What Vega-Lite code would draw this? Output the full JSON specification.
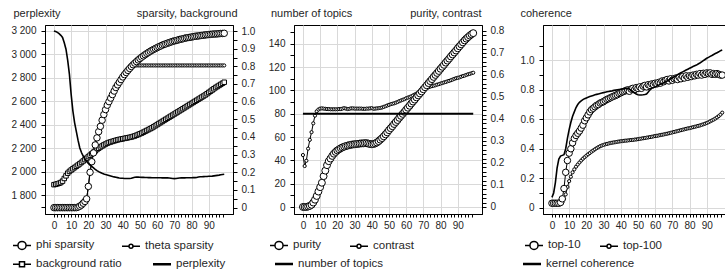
{
"$schema":"https://vega.github.io/schema/vega-lite/v6.json",
"background":"white",
"padding":{"left":10,"top":6,"right":0,"bottom":0},
"datasets":{"d":[
{"x":0,"a":0,"b":0,"c":0.13,"p":3200,"u":0,"n":0.236,"t":80,"h":0.03,"g":0.03,"k":0.07},
{"x":1,"a":0,"b":0,"c":0.132,"p":3195,"u":0,"n":0.186,"t":80,"h":0.03,"g":0.03,"k":0.1},
{"x":2,"a":0,"b":0,"c":0.135,"p":3188,"u":0,"n":0.21,"t":80,"h":0.03,"g":0.03,"k":0.17},
{"x":3,"a":0,"b":0,"c":0.138,"p":3178,"u":0.002,"n":0.265,"t":80,"h":0.03,"g":0.03,"k":0.27},
{"x":4,"a":0,"b":0,"c":0.142,"p":3163,"u":0.005,"n":0.305,"t":80,"h":0.03,"g":0.03,"k":0.33},
{"x":5,"a":0,"b":0,"c":0.15,"p":3145,"u":0.01,"n":0.34,"t":80,"h":0.035,"g":0.03,"k":0.35},
{"x":6,"a":0,"b":0,"c":0.165,"p":3100,"u":0.02,"n":0.38,"t":80,"h":0.06,"g":0.035,"k":0.355},
{"x":7,"a":0,"b":0,"c":0.18,"p":3045,"u":0.033,"n":0.415,"t":80,"h":0.13,"g":0.06,"k":0.36},
{"x":8,"a":0,"b":0,"c":0.195,"p":2950,"u":0.05,"n":0.435,"t":80,"h":0.24,"g":0.09,"k":0.4},
{"x":9,"a":0,"b":0,"c":0.205,"p":2830,"u":0.07,"n":0.443,"t":80,"h":0.32,"g":0.14,"k":0.47},
{"x":10,"a":0,"b":0,"c":0.213,"p":2660,"u":0.09,"n":0.447,"t":80,"h":0.37,"g":0.18,"k":0.53},
{"x":11,"a":0,"b":0,"c":0.22,"p":2520,"u":0.11,"n":0.448,"t":80,"h":0.4,"g":0.21,"k":0.58},
{"x":12,"a":0,"b":0,"c":0.227,"p":2420,"u":0.14,"n":0.447,"t":80,"h":0.44,"g":0.24,"k":0.62},
{"x":13,"a":0,"b":0,"c":0.234,"p":2345,"u":0.165,"n":0.446,"t":80,"h":0.47,"g":0.26,"k":0.65},
{"x":14,"a":0.003,"b":0.003,"c":0.241,"p":2270,"u":0.19,"n":0.445,"t":80,"h":0.49,"g":0.278,"k":0.68},
{"x":15,"a":0.008,"b":0.008,"c":0.248,"p":2205,"u":0.208,"n":0.445,"t":80,"h":0.505,"g":0.293,"k":0.7},
{"x":16,"a":0.015,"b":0.015,"c":0.256,"p":2165,"u":0.22,"n":0.444,"t":80,"h":0.52,"g":0.307,"k":0.715},
{"x":17,"a":0.025,"b":0.025,"c":0.264,"p":2135,"u":0.232,"n":0.444,"t":80,"h":0.54,"g":0.32,"k":0.725},
{"x":18,"a":0.035,"b":0.035,"c":0.272,"p":2110,"u":0.242,"n":0.444,"t":80,"h":0.56,"g":0.332,"k":0.733},
{"x":19,"a":0.05,"b":0.05,"c":0.28,"p":2090,"u":0.25,"n":0.444,"t":80,"h":0.59,"g":0.343,"k":0.74},
{"x":20,"a":0.12,"b":0.12,"c":0.289,"p":2072,"u":0.257,"n":0.444,"t":80,"h":0.61,"g":0.353,"k":0.745},
{"x":21,"a":0.2,"b":0.2,"c":0.297,"p":2058,"u":0.262,"n":0.445,"t":80,"h":0.63,"g":0.362,"k":0.75},
{"x":22,"a":0.26,"b":0.26,"c":0.305,"p":2046,"u":0.267,"n":0.445,"t":80,"h":0.65,"g":0.371,"k":0.754},
{"x":23,"a":0.31,"b":0.31,"c":0.313,"p":2034,"u":0.271,"n":0.447,"t":80,"h":0.665,"g":0.38,"k":0.758},
{"x":24,"a":0.355,"b":0.355,"c":0.321,"p":2022,"u":0.274,"n":0.449,"t":80,"h":0.675,"g":0.388,"k":0.762},
{"x":25,"a":0.395,"b":0.395,"c":0.329,"p":2011,"u":0.277,"n":0.447,"t":80,"h":0.685,"g":0.396,"k":0.766},
{"x":26,"a":0.43,"b":0.43,"c":0.336,"p":2002,"u":0.279,"n":0.445,"t":80,"h":0.695,"g":0.404,"k":0.769},
{"x":27,"a":0.46,"b":0.46,"c":0.343,"p":1995,"u":0.281,"n":0.446,"t":80,"h":0.7,"g":0.411,"k":0.772},
{"x":28,"a":0.495,"b":0.495,"c":0.349,"p":1988,"u":0.283,"n":0.448,"t":80,"h":0.71,"g":0.417,"k":0.775},
{"x":29,"a":0.527,"b":0.527,"c":0.355,"p":1982,"u":0.284,"n":0.448,"t":80,"h":0.715,"g":0.422,"k":0.778},
{"x":30,"a":0.555,"b":0.555,"c":0.36,"p":1977,"u":0.285,"n":0.447,"t":80,"h":0.72,"g":0.426,"k":0.781},
{"x":31,"a":0.58,"b":0.58,"c":0.365,"p":1973,"u":0.286,"n":0.447,"t":80,"h":0.728,"g":0.43,"k":0.784},
{"x":32,"a":0.6,"b":0.6,"c":0.369,"p":1969,"u":0.287,"n":0.447,"t":80,"h":0.735,"g":0.433,"k":0.787},
{"x":33,"a":0.62,"b":0.62,"c":0.372,"p":1965,"u":0.288,"n":0.447,"t":80,"h":0.74,"g":0.436,"k":0.789},
{"x":34,"a":0.64,"b":0.64,"c":0.375,"p":1961,"u":0.289,"n":0.447,"t":80,"h":0.746,"g":0.439,"k":0.791},
{"x":35,"a":0.66,"b":0.66,"c":0.378,"p":1957,"u":0.289,"n":0.446,"t":80,"h":0.752,"g":0.441,"k":0.793},
{"x":36,"a":0.68,"b":0.68,"c":0.381,"p":1954,"u":0.29,"n":0.446,"t":80,"h":0.757,"g":0.443,"k":0.796},
{"x":37,"a":0.695,"b":0.695,"c":0.384,"p":1951,"u":0.29,"n":0.447,"t":80,"h":0.762,"g":0.445,"k":0.798},
{"x":38,"a":0.71,"b":0.71,"c":0.386,"p":1948,"u":0.288,"n":0.447,"t":80,"h":0.767,"g":0.447,"k":0.8},
{"x":39,"a":0.725,"b":0.725,"c":0.388,"p":1946,"u":0.286,"n":0.448,"t":80,"h":0.775,"g":0.449,"k":0.802},
{"x":40,"a":0.74,"b":0.74,"c":0.39,"p":1945,"u":0.285,"n":0.449,"t":80,"h":0.78,"g":0.451,"k":0.804},
{"x":41,"a":0.753,"b":0.753,"c":0.392,"p":1944,"u":0.286,"n":0.446,"t":80,"h":0.786,"g":0.452,"k":0.806},
{"x":42,"a":0.765,"b":0.765,"c":0.394,"p":1944,"u":0.289,"n":0.447,"t":80,"h":0.79,"g":0.454,"k":0.808},
{"x":43,"a":0.777,"b":0.777,"c":0.396,"p":1944,"u":0.293,"n":0.448,"t":80,"h":0.795,"g":0.455,"k":0.81},
{"x":44,"a":0.788,"b":0.788,"c":0.398,"p":1944,"u":0.299,"n":0.449,"t":80,"h":0.8,"g":0.456,"k":0.81},
{"x":45,"a":0.799,"b":0.795,"c":0.4,"p":1945,"u":0.306,"n":0.45,"t":80,"h":0.79,"g":0.458,"k":0.805},
{"x":46,"a":0.809,"b":0.8,"c":0.403,"p":1950,"u":0.313,"n":0.452,"t":80,"h":0.805,"g":0.459,"k":0.797},
{"x":47,"a":0.818,"b":0.805,"c":0.406,"p":1954,"u":0.321,"n":0.455,"t":80,"h":0.81,"g":0.46,"k":0.79},
{"x":48,"a":0.827,"b":0.805,"c":0.41,"p":1955,"u":0.33,"n":0.458,"t":80,"h":0.8,"g":0.462,"k":0.78},
{"x":49,"a":0.836,"b":0.805,"c":0.414,"p":1955,"u":0.339,"n":0.461,"t":80,"h":0.815,"g":0.463,"k":0.772},
{"x":50,"a":0.844,"b":0.805,"c":0.418,"p":1954,"u":0.349,"n":0.464,"t":80,"h":0.81,"g":0.465,"k":0.767},
{"x":51,"a":0.852,"b":0.805,"c":0.422,"p":1953,"u":0.358,"n":0.467,"t":80,"h":0.82,"g":0.467,"k":0.765},
{"x":52,"a":0.859,"b":0.805,"c":0.427,"p":1953,"u":0.367,"n":0.469,"t":80,"h":0.81,"g":0.469,"k":0.765},
{"x":53,"a":0.866,"b":0.805,"c":0.432,"p":1952,"u":0.377,"n":0.471,"t":80,"h":0.825,"g":0.471,"k":0.766},
{"x":54,"a":0.873,"b":0.805,"c":0.437,"p":1952,"u":0.386,"n":0.474,"t":80,"h":0.83,"g":0.473,"k":0.768},
{"x":55,"a":0.879,"b":0.805,"c":0.442,"p":1951,"u":0.395,"n":0.477,"t":80,"h":0.82,"g":0.475,"k":0.772},
{"x":56,"a":0.885,"b":0.805,"c":0.447,"p":1951,"u":0.405,"n":0.481,"t":80,"h":0.835,"g":0.477,"k":0.785},
{"x":57,"a":0.891,"b":0.805,"c":0.452,"p":1950,"u":0.414,"n":0.484,"t":80,"h":0.83,"g":0.479,"k":0.8},
{"x":58,"a":0.896,"b":0.805,"c":0.458,"p":1950,"u":0.423,"n":0.487,"t":80,"h":0.84,"g":0.481,"k":0.81},
{"x":59,"a":0.901,"b":0.805,"c":0.464,"p":1950,"u":0.432,"n":0.49,"t":80,"h":0.835,"g":0.484,"k":0.815},
{"x":60,"a":0.906,"b":0.805,"c":0.47,"p":1950,"u":0.442,"n":0.494,"t":80,"h":0.845,"g":0.486,"k":0.82},
{"x":61,"a":0.911,"b":0.805,"c":0.476,"p":1950,"u":0.451,"n":0.497,"t":80,"h":0.84,"g":0.488,"k":0.826},
{"x":62,"a":0.915,"b":0.805,"c":0.482,"p":1950,"u":0.46,"n":0.5,"t":80,"h":0.85,"g":0.49,"k":0.832},
{"x":63,"a":0.92,"b":0.805,"c":0.488,"p":1949,"u":0.47,"n":0.503,"t":80,"h":0.845,"g":0.493,"k":0.838},
{"x":64,"a":0.924,"b":0.805,"c":0.494,"p":1949,"u":0.479,"n":0.507,"t":80,"h":0.86,"g":0.495,"k":0.843},
{"x":65,"a":0.927,"b":0.805,"c":0.5,"p":1949,"u":0.488,"n":0.511,"t":80,"h":0.855,"g":0.497,"k":0.848},
{"x":66,"a":0.931,"b":0.805,"c":0.506,"p":1949,"u":0.498,"n":0.515,"t":80,"h":0.865,"g":0.5,"k":0.854},
{"x":67,"a":0.934,"b":0.805,"c":0.512,"p":1948,"u":0.507,"n":0.52,"t":80,"h":0.87,"g":0.502,"k":0.86},
{"x":68,"a":0.938,"b":0.805,"c":0.518,"p":1946,"u":0.516,"n":0.524,"t":80,"h":0.86,"g":0.505,"k":0.867},
{"x":69,"a":0.941,"b":0.805,"c":0.524,"p":1943,"u":0.525,"n":0.529,"t":80,"h":0.875,"g":0.508,"k":0.874},
{"x":70,"a":0.944,"b":0.805,"c":0.53,"p":1942,"u":0.535,"n":0.533,"t":80,"h":0.865,"g":0.511,"k":0.881},
{"x":71,"a":0.946,"b":0.805,"c":0.536,"p":1943,"u":0.544,"n":0.537,"t":80,"h":0.875,"g":0.514,"k":0.888},
{"x":72,"a":0.949,"b":0.805,"c":0.542,"p":1946,"u":0.553,"n":0.541,"t":80,"h":0.88,"g":0.517,"k":0.895},
{"x":73,"a":0.952,"b":0.805,"c":0.548,"p":1948,"u":0.563,"n":0.544,"t":80,"h":0.87,"g":0.52,"k":0.902},
{"x":74,"a":0.954,"b":0.805,"c":0.554,"p":1949,"u":0.572,"n":0.547,"t":80,"h":0.885,"g":0.523,"k":0.909},
{"x":75,"a":0.956,"b":0.805,"c":0.56,"p":1949,"u":0.581,"n":0.549,"t":80,"h":0.875,"g":0.526,"k":0.916},
{"x":76,"a":0.959,"b":0.805,"c":0.566,"p":1949,"u":0.591,"n":0.551,"t":80,"h":0.89,"g":0.529,"k":0.922},
{"x":77,"a":0.961,"b":0.805,"c":0.572,"p":1950,"u":0.6,"n":0.553,"t":80,"h":0.88,"g":0.532,"k":0.928},
{"x":78,"a":0.963,"b":0.805,"c":0.578,"p":1950,"u":0.609,"n":0.556,"t":80,"h":0.895,"g":0.535,"k":0.934},
{"x":79,"a":0.964,"b":0.805,"c":0.584,"p":1950,"u":0.618,"n":0.558,"t":80,"h":0.885,"g":0.538,"k":0.94},
{"x":80,"a":0.966,"b":0.805,"c":0.59,"p":1950,"u":0.628,"n":0.561,"t":80,"h":0.895,"g":0.54,"k":0.946},
{"x":81,"a":0.968,"b":0.805,"c":0.596,"p":1951,"u":0.637,"n":0.563,"t":80,"h":0.89,"g":0.543,"k":0.952},
{"x":82,"a":0.97,"b":0.805,"c":0.602,"p":1951,"u":0.646,"n":0.566,"t":80,"h":0.9,"g":0.546,"k":0.958},
{"x":83,"a":0.971,"b":0.805,"c":0.608,"p":1952,"u":0.656,"n":0.568,"t":80,"h":0.895,"g":0.549,"k":0.963},
{"x":84,"a":0.972,"b":0.805,"c":0.614,"p":1956,"u":0.665,"n":0.571,"t":80,"h":0.905,"g":0.552,"k":0.968},
{"x":85,"a":0.974,"b":0.805,"c":0.62,"p":1958,"u":0.674,"n":0.573,"t":80,"h":0.9,"g":0.555,"k":0.975},
{"x":86,"a":0.975,"b":0.805,"c":0.626,"p":1958,"u":0.684,"n":0.576,"t":80,"h":0.91,"g":0.558,"k":0.982},
{"x":87,"a":0.976,"b":0.805,"c":0.632,"p":1959,"u":0.693,"n":0.579,"t":80,"h":0.9,"g":0.562,"k":0.99},
{"x":88,"a":0.978,"b":0.805,"c":0.638,"p":1960,"u":0.702,"n":0.582,"t":80,"h":0.912,"g":0.566,"k":0.998},
{"x":89,"a":0.979,"b":0.805,"c":0.645,"p":1961,"u":0.711,"n":0.585,"t":80,"h":0.905,"g":0.57,"k":1.006},
{"x":90,"a":0.98,"b":0.805,"c":0.652,"p":1962,"u":0.721,"n":0.587,"t":80,"h":0.915,"g":0.575,"k":1.014},
{"x":91,"a":0.981,"b":0.805,"c":0.659,"p":1963,"u":0.73,"n":0.589,"t":80,"h":0.91,"g":0.58,"k":1.02},
{"x":92,"a":0.982,"b":0.805,"c":0.666,"p":1964,"u":0.739,"n":0.592,"t":80,"h":0.915,"g":0.586,"k":1.027},
{"x":93,"a":0.983,"b":0.805,"c":0.673,"p":1966,"u":0.748,"n":0.595,"t":80,"h":0.905,"g":0.592,"k":1.033},
{"x":94,"a":0.983,"b":0.805,"c":0.68,"p":1968,"u":0.757,"n":0.597,"t":80,"h":0.91,"g":0.598,"k":1.04},
{"x":95,"a":0.984,"b":0.805,"c":0.686,"p":1970,"u":0.765,"n":0.6,"t":80,"h":0.905,"g":0.605,"k":1.046},
{"x":96,"a":0.985,"b":0.805,"c":0.692,"p":1972,"u":0.772,"n":0.603,"t":80,"h":0.91,"g":0.613,"k":1.052},
{"x":97,"a":0.986,"b":0.805,"c":0.698,"p":1975,"u":0.779,"n":0.605,"t":80,"h":0.905,"g":0.622,"k":1.058},
{"x":98,"a":0.986,"b":0.805,"c":0.704,"p":1978,"u":0.785,"n":0.608,"t":80,"h":0.9,"g":0.632,"k":1.066},
{"x":99,"a":0.987,"b":0.805,"c":0.71,"p":1980,"u":0.79,"n":0.61,"t":80,"h":0.9,"g":0.645,"k":1.07}
]},
"bounds":"flush",
"spacing":61,
"resolve":{"scale":{"shape":"independent"},"legend":{"shape":"independent"}},
"hconcat":[
{
 "width":188,"height":189,
 "data":{"name":"d"},
 "encoding":{"x":{"field":"x","type":"quantitative","scale":{"domain":[-5.2,104.1],"nice":false,"zero":false},"axis":{"title":null,"values":[0,2,4,6,8,10,12,14,16,18,20,22,24,26,28,30,32,34,36,38,40,42,44,46,48,50,52,54,56,58,60,62,64,66,68,70,72,74,76,78,80,82,84,86,88,90,92,94,96,98],"labelExpr":"datum.value % 10 == 0 ? datum.label : ''","grid":true,"gridOpacity":{"condition":{"test":"datum.value % 10 == 0","value":1},"value":0},"tickSize":3,"labelPadding":3}}},
 "layer":[
  {"transform":[{"fold":["c","b","a"],"as":["s","v"]}],
   "encoding":{"y":{"field":"v","type":"quantitative","scale":{"domain":[-0.036,1.034],"nice":false,"zero":false},"axis":{"orient":"right","title":"sparsity, background","titleAngle":0,"titleAlign":"right","titleBaseline":"alphabetic","titleX":4,"titleY":-9,"values":[0,0.05,0.1,0.15,0.2,0.25,0.3,0.35,0.4,0.45,0.5,0.55,0.6,0.65,0.7,0.75,0.8,0.85,0.9,0.95,1],"labelExpr":"abs(datum.value*10 - round(datum.value*10)) < 0.001 ? (datum.value == 0 ? '0' : format(datum.value, '.1f')) : ''","grid":false,"tickSize":4,"labelPadding":4}}},
   "layer":[
    {"mark":{"type":"line","color":"black","strokeWidth":1},"encoding":{"detail":{"field":"s"}}},
    {"transform":[{"filter":"datum.s == 'c'"}],"mark":{"type":"point","shape":"square","size":20,"filled":true,"fill":"white","stroke":"black","strokeWidth":1,"opacity":1}},
    {"transform":[{"filter":"datum.s == 'b'"}],"mark":{"type":"point","shape":"circle","size":10,"filled":true,"fill":"white","stroke":"black","strokeWidth":1,"opacity":1}},
    {"transform":[{"filter":"datum.s == 'a'"}],"mark":{"type":"point","shape":"circle","size":42,"filled":true,"fill":"white","stroke":"black","strokeWidth":1,"opacity":1}}
   ]},
  {"mark":{"type":"line","color":"black","strokeWidth":1.6},
   "encoding":{"y":{"field":"p","type":"quantitative","scale":{"domain":[1641,3251],"nice":false,"zero":false},"axis":{"orient":"left","title":"perplexity","titleAngle":0,"titleAlign":"left","titleBaseline":"alphabetic","titleX":-32,"titleY":-9,"values":[1700,1800,1900,2000,2100,2200,2300,2400,2500,2600,2700,2800,2900,3000,3100,3200],"labelExpr":"datum.value % 200 == 0 ? replace(format(datum.value, ','), ',', ' ') : ''","grid":true,"gridOpacity":{"condition":{"test":"datum.value % 200 == 0","value":1},"value":0},"tickSize":4,"labelPadding":5}}}},
  {"transform":[{"filter":"false"}],
   "mark":{"type":"point","filled":false,"color":"black","strokeWidth":1,"opacity":1},
   "encoding":{"shape":{"field":"s","type":"nominal","scale":{"domain":["phi sparsity","theta sparsity"],"range":["M-1,0H-0.45M0.45,0H1M-0.45,0A0.45,0.45,0,1,1,0.45,0A0.45,0.45,0,1,1,-0.45,0Z","M-1,0H-0.22M0.22,0H1M-0.22,0A0.22,0.22,0,1,1,0.22,0A0.22,0.22,0,1,1,-0.22,0Z"]},
     "legend":{"title":null,"orient":"none","legendX":-33,"legendY":210,"direction":"horizontal","columnPadding":24,"symbolSize":324,"labelOffset":4,"labelFontSize":11.5,
       "encode":{"symbols":{"update":{"stroke":{"value":"black"},"strokeWidth":{"value":1},"fill":{"value":"transparent"},"opacity":{"value":1}}}}}}}},
  {"transform":[{"filter":"false"}],
   "mark":{"type":"point","filled":false,"color":"black","strokeWidth":1,"opacity":1},
   "encoding":{"shape":{"field":"s","type":"nominal","scale":{"domain":["background ratio","perplexity"],"range":["M-1,0H-0.28M0.28,0H1M-0.28,-0.28H0.28V0.28H-0.28Z","M-1,-0.065H1M-1,0.065H1"]},
     "legend":{"title":null,"orient":"none","legendX":-33,"legendY":229,"direction":"horizontal","columnPadding":28,"symbolSize":324,"labelOffset":4,"labelFontSize":11.5,
       "encode":{"symbols":{"update":{"stroke":{"value":"black"},"strokeWidth":{"value":1},"fill":{"value":"transparent"},"opacity":{"value":1}}}}}}}}
 ],
 "resolve":{"scale":{"y":"independent","shape":"independent"},"legend":{"shape":"independent"}}
},
{
 "width":188,"height":189,
 "data":{"name":"d"},
 "encoding":{"x":{"field":"x","type":"quantitative","scale":{"domain":[-5.2,104.1],"nice":false,"zero":false},"axis":{"title":null,"values":[0,2,4,6,8,10,12,14,16,18,20,22,24,26,28,30,32,34,36,38,40,42,44,46,48,50,52,54,56,58,60,62,64,66,68,70,72,74,76,78,80,82,84,86,88,90,92,94,96,98],"labelExpr":"datum.value % 10 == 0 ? datum.label : ''","grid":true,"gridOpacity":{"condition":{"test":"datum.value % 10 == 0","value":1},"value":0},"tickSize":3,"labelPadding":3}}},
 "layer":[
  {"transform":[{"fold":["n","u"],"as":["s","v"]}],
   "encoding":{"y":{"field":"v","type":"quantitative","scale":{"domain":[-0.032,0.827],"nice":false,"zero":false},"axis":{"orient":"right","title":"purity, contrast","titleAngle":0,"titleAlign":"right","titleBaseline":"alphabetic","titleX":-1,"titleY":-9,"values":[0,0.02,0.04,0.06,0.08,0.1,0.12,0.14,0.16,0.18,0.2,0.22,0.24,0.26,0.28,0.3,0.32,0.34,0.36,0.38,0.4,0.42,0.44,0.46,0.48,0.5,0.52,0.54,0.56,0.58,0.6,0.62,0.64,0.66,0.68,0.7,0.72,0.74,0.76,0.78,0.8],"labelExpr":"abs(datum.value*10 - round(datum.value*10)) < 0.001 ? (datum.value == 0 ? '0' : format(datum.value, '.1f')) : ''","grid":false,"tickSize":4,"labelPadding":4}}},
   "layer":[
    {"mark":{"type":"line","color":"black","strokeWidth":1},"encoding":{"detail":{"field":"s"}}},
    {"transform":[{"filter":"datum.s == 'n'"}],"mark":{"type":"point","shape":"circle","size":10,"filled":true,"fill":"white","stroke":"black","strokeWidth":1,"opacity":1}},
    {"transform":[{"filter":"datum.s == 'u'"}],"mark":{"type":"point","shape":"circle","size":48,"filled":true,"fill":"white","stroke":"black","strokeWidth":1,"opacity":1}}
   ]},
  {"mark":{"type":"line","color":"black","strokeWidth":2},
   "encoding":{"y":{"field":"t","type":"quantitative","scale":{"domain":[-6,156],"nice":false,"zero":false},"axis":{"orient":"left","title":"number of topics","titleAngle":0,"titleAlign":"left","titleBaseline":"alphabetic","titleX":-23.5,"titleY":-9,"values":[0,10,20,30,40,50,60,70,80,90,100,110,120,130,140,150],"labelExpr":"datum.value % 20 == 0 ? datum.label : ''","grid":true,"gridOpacity":{"condition":{"test":"datum.value % 20 == 0","value":1},"value":0},"tickSize":4,"labelPadding":5}}}},
  {"transform":[{"filter":"false"}],
   "mark":{"type":"point","filled":false,"color":"black","strokeWidth":1,"opacity":1},
   "encoding":{"shape":{"field":"s","type":"nominal","scale":{"domain":["purity","contrast"],"range":["M-1,0H-0.45M0.45,0H1M-0.45,0A0.45,0.45,0,1,1,0.45,0A0.45,0.45,0,1,1,-0.45,0Z","M-1,0H-0.22M0.22,0H1M-0.22,0A0.22,0.22,0,1,1,0.22,0A0.22,0.22,0,1,1,-0.22,0Z"]},
     "legend":{"title":null,"orient":"none","legendX":-25,"legendY":210,"direction":"horizontal","columnPadding":25,"symbolSize":324,"labelOffset":4,"labelFontSize":11.5,
       "encode":{"symbols":{"update":{"stroke":{"value":"black"},"strokeWidth":{"value":1},"fill":{"value":"transparent"},"opacity":{"value":1}}}}}}}},
  {"transform":[{"filter":"false"}],
   "mark":{"type":"point","filled":false,"color":"black","strokeWidth":1,"opacity":1},
   "encoding":{"shape":{"field":"s","type":"nominal","scale":{"domain":["number of topics"],"range":["M-1,-0.065H1M-1,0.065H1"]},
     "legend":{"title":null,"orient":"none","legendX":-20,"legendY":229,"direction":"horizontal","symbolSize":324,"labelOffset":4,"labelFontSize":11.5,
       "encode":{"symbols":{"update":{"stroke":{"value":"black"},"strokeWidth":{"value":1},"fill":{"value":"transparent"},"opacity":{"value":1}}}}}}}}
 ],
 "resolve":{"scale":{"y":"independent","shape":"independent"},"legend":{"shape":"independent"}}
},
{
 "width":188,"height":189,
 "data":{"name":"d"},
 "transform":[{"fold":["g","h","k"],"as":["s","v"]}],
 "encoding":{"x":{"field":"x","type":"quantitative","scale":{"domain":[-5.2,104.1],"nice":false,"zero":false},"axis":{"title":null,"values":[0,2,4,6,8,10,12,14,16,18,20,22,24,26,28,30,32,34,36,38,40,42,44,46,48,50,52,54,56,58,60,62,64,66,68,70,72,74,76,78,80,82,84,86,88,90,92,94,96,98],"labelExpr":"datum.value % 10 == 0 ? datum.label : ''","grid":true,"gridOpacity":{"condition":{"test":"datum.value % 10 == 0","value":1},"value":0},"tickSize":3,"labelPadding":3}},
   "y":{"field":"v","type":"quantitative","scale":{"domain":[-0.043,1.24],"nice":false,"zero":false},"axis":{"orient":"left","title":"coherence","titleAngle":0,"titleAlign":"left","titleBaseline":"alphabetic","titleX":-23,"titleY":-9,"values":[0,0.1,0.2,0.3,0.4,0.5,0.6,0.7,0.8,0.9,1,1.1],"labelExpr":"abs(datum.value*5 - round(datum.value*5)) < 0.001 ? (datum.value == 0 ? '0' : format(datum.value, '.1f')) : ''","grid":true,"gridOpacity":{"condition":{"test":"abs(datum.value*5 - round(datum.value*5)) < 0.001","value":1},"value":0},"tickSize":4,"labelPadding":5}}},
 "layer":[
  {"transform":[{"filter":"datum.s != 'k'"}],"mark":{"type":"line","color":"black","strokeWidth":1},"encoding":{"detail":{"field":"s"}}},
  {"transform":[{"filter":"datum.s == 'g'"}],"mark":{"type":"point","shape":"circle","size":10,"filled":true,"fill":"white","stroke":"black","strokeWidth":1,"opacity":1}},
  {"transform":[{"filter":"datum.s == 'h'"}],"mark":{"type":"point","shape":"circle","size":42,"filled":true,"fill":"white","stroke":"black","strokeWidth":1,"opacity":1}},
  {"transform":[{"filter":"datum.s == 'k'"}],"mark":{"type":"line","color":"black","strokeWidth":1.6}},
  {"transform":[{"filter":"false"}],
   "mark":{"type":"point","filled":false,"color":"black","strokeWidth":1,"opacity":1},
   "encoding":{"shape":{"field":"s","type":"nominal","scale":{"domain":["top-10","top-100"],"range":["M-1,0H-0.45M0.45,0H1M-0.45,0A0.45,0.45,0,1,1,0.45,0A0.45,0.45,0,1,1,-0.45,0Z","M-1,0H-0.22M0.22,0H1M-0.22,0A0.22,0.22,0,1,1,0.22,0A0.22,0.22,0,1,1,-0.22,0Z"]},
     "legend":{"title":null,"orient":"none","legendX":-19,"legendY":210,"direction":"horizontal","columnPadding":16,"symbolSize":324,"labelOffset":4,"labelFontSize":11.5,
       "encode":{"symbols":{"update":{"stroke":{"value":"black"},"strokeWidth":{"value":1},"fill":{"value":"transparent"},"opacity":{"value":1}}}}}}}},
  {"transform":[{"filter":"false"}],
   "mark":{"type":"point","filled":false,"color":"black","strokeWidth":1,"opacity":1},
   "encoding":{"shape":{"field":"s","type":"nominal","scale":{"domain":["kernel coherence"],"range":["M-1,-0.065H1M-1,0.065H1"]},
     "legend":{"title":null,"orient":"none","legendX":-21,"legendY":229,"direction":"horizontal","symbolSize":324,"labelOffset":4,"labelFontSize":11.5,
       "encode":{"symbols":{"update":{"stroke":{"value":"black"},"strokeWidth":{"value":1},"fill":{"value":"transparent"},"opacity":{"value":1}}}}}}}}
 ],
 "resolve":{"scale":{"shape":"independent"},"legend":{"shape":"independent"}}
}
],
"config":{
 "font":"Liberation Sans",
 "view":{"stroke":"black","strokeWidth":1},
 "axis":{"labelFont":"Liberation Sans","labelFontSize":10,"labelColor":"#262626","titleFont":"Liberation Sans","titleFontSize":11,"titleFontWeight":"normal","titleColor":"#262626","domainColor":"black","domainWidth":1,"tickColor":"black","gridColor":"#d9d9d9","gridWidth":1,"labelOverlap":false,"labelFlush":false,"labelBound":false},
 "legend":{"labelFont":"Liberation Sans","labelFontSize":11.5,"labelColor":"#262626","padding":0,"rowPadding":0}
}
}
